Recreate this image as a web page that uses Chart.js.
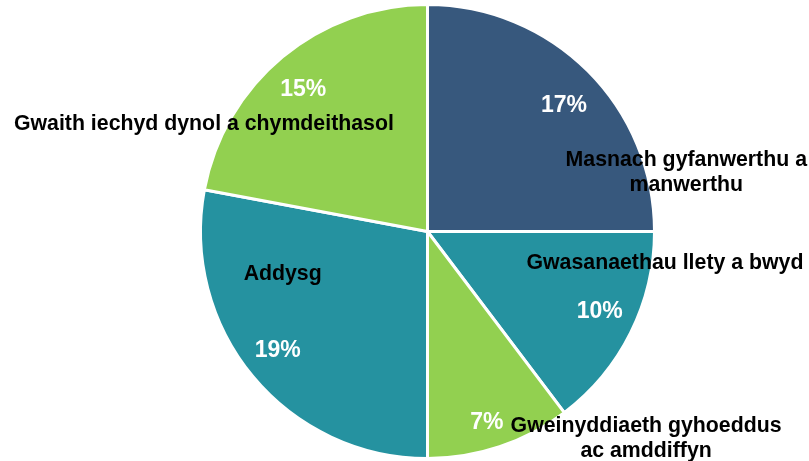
<!DOCTYPE html>
<html>
<head>
<meta charset="utf-8">
<script src="https://cdn.jsdelivr.net/npm/chart.js@4.4.0/dist/chart.umd.min.js"></script>
<style>
  html, body { margin: 0; padding: 0; background: #ffffff; }
  #wrap { width: 809px; height: 461px; position: relative; }
</style>
</head>
<body>
<div id="wrap"><canvas id="c"></canvas></div>
<script>
// ---- data ----
const categories = [
  ["Masnach gyfanwerthu a", "manwerthu"],
  ["Gwasanaethau llety a bwyd"],
  ["Gweinyddiaeth gyhoeddus", "ac amddiffyn"],
  ["Addysg"],
  ["Gwaith iechyd dynol a chymdeithasol"]
];
const values = [17, 10, 7, 19, 15];
const percentLabels = ["17%", "10%", "7%", "19%", "15%"];
const colors = ["#37587D", "#2592A0", "#92D050", "#2592A0", "#92D050"];
// percentage label placement: [radial fraction, fraction of the slice's sweep]
const percentPlacement = [
  [0.83, 0.52],
  [0.838, 0.46],
  [0.878, 0.53],
  [0.843, 0.517],
  [0.842, 0.485]
];
// category label placement (relative to pie centre, in units of radius)
const labelOffsets = [
  [1.14, -0.261],
  [1.046, 0.14],
  [0.963, 0.911],
  [-0.638, 0.188],
  [-0.985, -0.474]
];

const labelPlugin = {
  id: 'pieLabels',
  afterDatasetsDraw(chart) {
    const ctx = chart.ctx;
    const meta = chart.getDatasetMeta(0);
    ctx.save();
    ctx.textAlign = 'center';
    const pctSize = 23;
    ctx.textBaseline = 'alphabetic';
    meta.data.forEach((arc, i) => {
      const p = arc.getProps(['x', 'y', 'startAngle', 'endAngle', 'outerRadius'], true);
      const [rf, af] = percentPlacement[i];
      const ang = p.startAngle + (p.endAngle - p.startAngle) * af;
      const rr = (p.outerRadius - 1.5) * rf;
      ctx.fillStyle = '#ffffff';
      ctx.font = 'bold ' + pctSize + 'px "Liberation Sans", Arial, sans-serif';
      ctx.fillText(percentLabels[i], p.x + Math.cos(ang) * rr, p.y + Math.sin(ang) * rr + pctSize * 0.716 / 2);
    });
    ctx.textBaseline = 'middle';
    meta.data.forEach((arc, i) => {
      const p = arc.getProps(['x', 'y', 'outerRadius'], true);
      const lines = categories[i];
      const cx = p.x + labelOffsets[i][0] * p.outerRadius;
      const cy = p.y + labelOffsets[i][1] * p.outerRadius;
      const lh = 25;
      ctx.fillStyle = '#000000';
      ctx.font = 'bold 21.3px "Liberation Sans", Arial, sans-serif';
      lines.forEach((t, k) => {
        ctx.fillText(t, cx, cy + (k - (lines.length - 1) / 2) * lh);
      });
    });
    ctx.restore();
  }
};

new Chart(document.getElementById('c'), {
  type: 'pie',
  data: {
    labels: categories.map(c => c.join(' ')),
    datasets: [{
      data: values,
      backgroundColor: colors,
      borderColor: '#ffffff',
      borderWidth: 3,
      hoverBorderWidth: 3,
      offset: 0,
      hoverOffset: 0
    }]
  },
  options: {
    responsive: true,
    maintainAspectRatio: false,
    animation: false,
    layout: { padding: { left: 46, right: 0, top: 3, bottom: 1 } },
    plugins: {
      legend: { display: false },
      tooltip: { enabled: false }
    }
  },
  plugins: [labelPlugin]
});
</script>
</body>
</html>
